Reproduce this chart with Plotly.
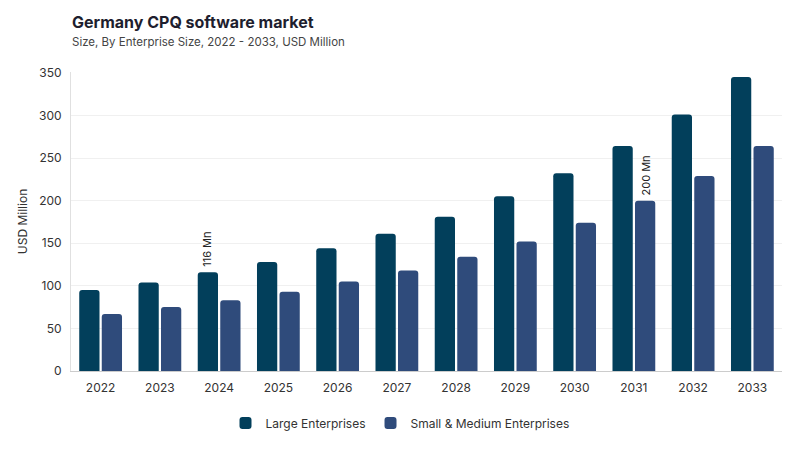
import plotly.graph_objects as go

years = ["2022", "2023", "2024", "2025", "2026", "2027", "2028", "2029", "2030", "2031", "2032", "2033"]
large = [95, 104, 116, 128, 144, 161, 181, 205, 232, 264, 301, 345]
sme = [67, 75, 83, 93, 105, 118, 134, 152, 174, 200, 229, 264]
series_names = ["Large Enterprises", "Small & Medium Enterprises"]
y_ticks = [0, 50, 100, 150, 200, 250, 300, 350]

font_family = "Inter, 'DejaVu Sans', sans-serif"

fig = go.Figure()
fig.add_trace(go.Bar(x=years, y=large, name=series_names[0], marker=dict(color="#023f5b", line=dict(width=0))))
fig.add_trace(go.Bar(x=years, y=sme, name=series_names[1], marker=dict(color="#2f4b7b", line=dict(width=0))))

# category axis: annotations positioned by category index
i_large = years.index("2024")
i_sme = years.index("2031")
fig.add_annotation(x=i_large, y=large[i_large], text="116 Mn", textangle=-90, showarrow=False,
                   xshift=-12, yshift=3, yanchor="bottom", font=dict(size=11, color="#222"))
fig.add_annotation(x=i_sme, y=sme[i_sme], text="200 Mn", textangle=-90, showarrow=False,
                   xshift=12, yshift=3, yanchor="bottom", font=dict(size=11, color="#222"))

# subtitle
fig.add_annotation(text="Size, By Enterprise Size, 2022 - 2033, USD Million", xref="paper", yref="paper",
                   x=-0.0015, y=1.10, xanchor="left", yanchor="middle", showarrow=False,
                   font=dict(size=11.5, color="#444"))

fig.update_layout(
    width=800, height=450,
    paper_bgcolor="white", plot_bgcolor="white",
    font=dict(family=font_family, size=12, color="#333"),
    title=dict(text="<b>Germany CPQ software market</b>",
               x=0.08, xanchor="left", y=0.969, yanchor="middle", font=dict(size=16, color="#1e1e2e")),
    margin=dict(l=63, r=26, t=64, b=87, autoexpand=False),
    barmode="group", bargap=0.24, bargroupgap=0.1, barcornerradius=3,
    legend=dict(orientation="h", x=0.49, xanchor="center", xref="container", y=0.078, yanchor="middle",
                yref="container", font=dict(size=12, color="#333")),
    xaxis=dict(type="category", showline=True, linecolor="#cccccc", linewidth=1, ticks="",
               ticklabelstandoff=6, tickfont=dict(size=12, color="#333"), automargin=False),
    yaxis=dict(title=dict(text="USD Million", font=dict(size=12, color="#333"), standoff=8),
               range=[0, 351], tickvals=y_ticks, showgrid=True, gridcolor="#f0f0f0", automargin=False,
               ticklabelstandoff=6,
               showline=True, linecolor="#e0e0e0", zeroline=False, ticks="", tickfont=dict(size=12, color="#333")),
)

fig.write_html("out.html")
